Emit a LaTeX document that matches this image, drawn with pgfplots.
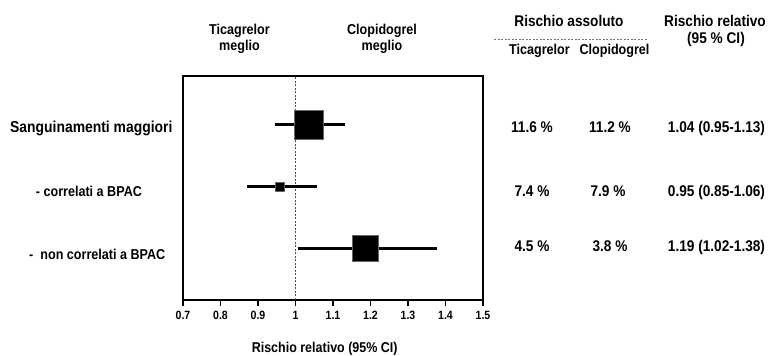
\documentclass[border=0pt]{standalone}
\usepackage{pgfplots}
\pgfplotsset{compat=1.18}
\usepackage{fontspec}
\setmainfont[FakeStretch=0.88]{Liberation Sans}
\newcommand{\fs}[1]{\fontsize{#1}{#1}\selectfont\bfseries}
\begin{document}
\begin{tikzpicture}[x=1pt,y=1pt]
\begin{axis}[
  at={(183pt,56pt)}, anchor=south west,
  scale only axis, width=300pt, height=224pt,
  xmin=0.7, xmax=1.5, ymin=0.161, ymax=3.795,
  xtick={0.7,0.8,0.9,1,1.1,1.2,1.3,1.4,1.5}, ytick=\empty,
  xtick pos=bottom, tick align=outside, major tick length=6pt,
  axis line style={line width=1.6pt},
  every tick/.style={black, line width=1.2pt},
  /pgf/number format/assume math mode=true,
  xticklabel style={font=\fs{12}, yshift=-2pt},
  xticklabel={\pgfmathprintnumber[fixed,precision=1]{\tick}},
  clip=false,
]
\addplot[black!70, dashed, line width=0.6pt, dash pattern=on 2pt off 1.5pt] coordinates {(1,0.161) (1,3.795)};
% CI lines
\addplot[black, line width=3pt] coordinates {(0.946,3) (1.131,3)};
\addplot[black, line width=3pt] coordinates {(0.871,2) (1.056,2)};
\addplot[black, line width=3pt] coordinates {(1.007,1) (1.377,1)};
% point estimates
\addplot[only marks, mark=square*, mark size=14.5pt, mark options={fill=black, draw=black!60, line width=0.5pt}] coordinates {(1.036,3)};
\addplot[only marks, mark=square*, mark size=4.5pt, mark options={fill=black, draw=black!60, line width=0.5pt}] coordinates {(0.959,2)};
\addplot[only marks, mark=square*, mark size=13pt, mark options={fill=black, draw=black!60, line width=0.5pt}] coordinates {(1.185,1)};
\end{axis}
\begin{scope}[every node/.style={inner sep=0pt}]
\node[align=center, font=\fontsize{14.3}{16.5}\selectfont\bfseries] at (239.5,317) {Ticagrelor\\meglio};
\node[align=center, font=\fontsize{14.3}{16.5}\selectfont\bfseries] at (382,317) {Clopidogrel\\meglio};
\node[font=\fs{15.5}] at (569,335) {Rischio assoluto};
\draw[black!55, line width=0.6pt, dash pattern=on 2pt off 1.5pt] (494,317) -- (648,317);
\node[font=\fs{14.3}] at (539.5,305) {Ticagrelor};
\node[font=\fs{14.3}] at (614.5,305) {Clopidogrel};
\node[font=\fs{15.5}] at (715,335) {Rischio relativo};
\node[font=\fs{15.5}] at (716,317) {(95 \% CI)};
% row labels
\node[anchor=base west, font=\fs{15.8}] at (10,223) {Sanguinamenti maggiori};
\node[anchor=base west, font=\fs{14.3}] at (35.7,159) {- correlati a BPAC};
\node[anchor=base west, font=\fs{14.3}] at (29,96) {-\ \ non correlati a BPAC};
% values
\node[anchor=base, font=\fs{15.5}] at (532,223) {11.6 \%};
\node[anchor=base, font=\fs{15.5}] at (610,223) {11.2 \%};
\node[anchor=base, font=\fs{15.5}] at (716.5,223) {1.04 (0.95-1.13)};
\node[anchor=base, font=\fs{15.5}] at (532,159) {7.4 \%};
\node[anchor=base, font=\fs{15.5}] at (608,159) {7.9 \%};
\node[anchor=base, font=\fs{15.5}] at (716.5,159) {0.95 (0.85-1.06)};
\node[anchor=base, font=\fs{15.5}] at (532,104) {4.5 \%};
\node[anchor=base, font=\fs{15.5}] at (610,104) {3.8 \%};
\node[anchor=base, font=\fs{15.5}] at (716.5,104) {1.19 (1.02-1.38)};
% x label
\node[anchor=base, font=\fs{14.2}] at (324.7,3) {Rischio relativo (95\% CI)};
\end{scope}
\pgfresetboundingbox
\path (0,0) rectangle (769,356);
\end{tikzpicture}
\end{document}
